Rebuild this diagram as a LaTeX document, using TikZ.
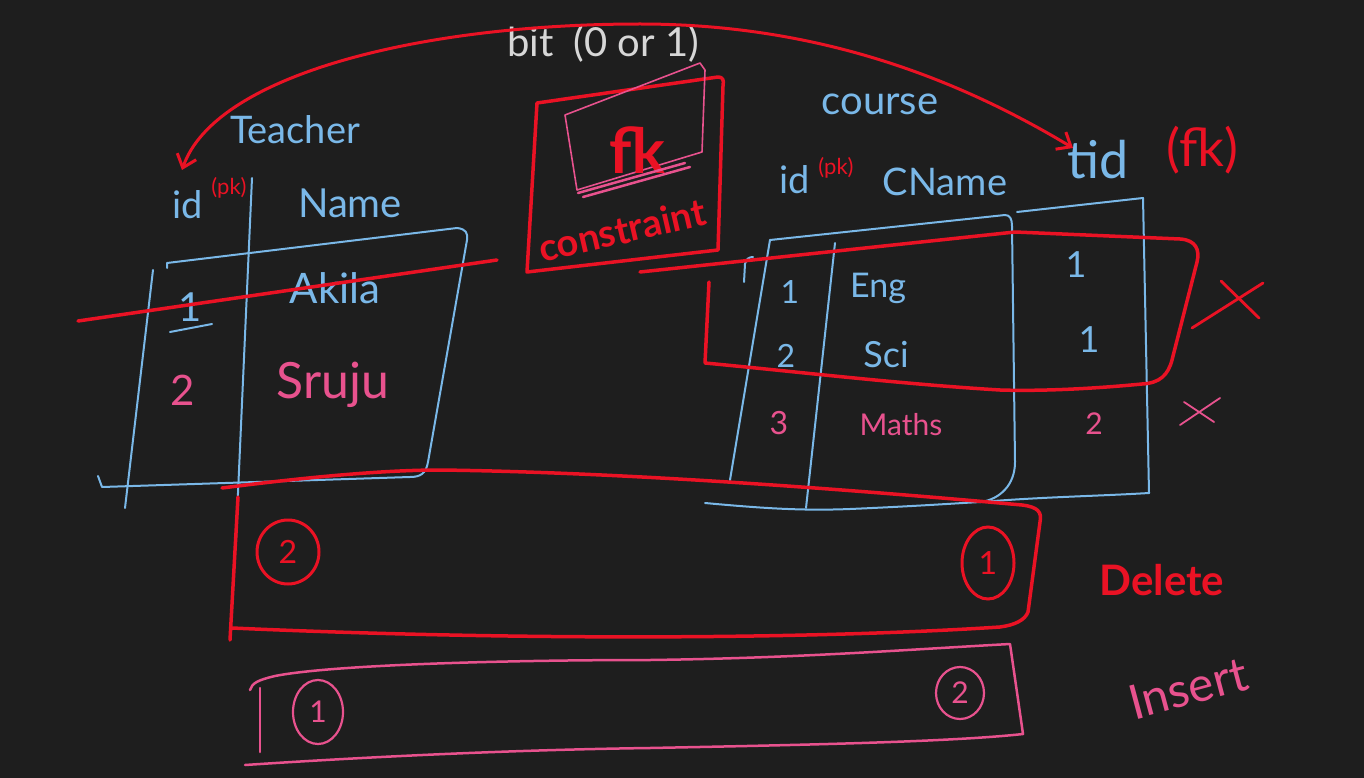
\documentclass[tikz,border=0pt]{standalone}
\usepackage{fontspec}
\setmainfont{Lato}
\usetikzlibrary{arrows.meta,shapes.geometric}
\definecolor{bg}{RGB}{30,30,30}
\definecolor{hblue}{RGB}{122,184,232}
\definecolor{hred}{RGB}{234,18,36}
\definecolor{hpink}{RGB}{232,82,142}
\definecolor{hwhite}{RGB}{215,215,215}
\tikzset{
  bl/.style={draw=hblue, line width=2pt, line cap=round, line join=round},
  rd/.style={draw=hred, line width=3.5pt, line cap=round, line join=round},
  pk/.style={draw=hpink, line width=2.5pt, line cap=round, line join=round},
  fs/.style={font=\fontsize{#1}{#1}\selectfont},
  bt/.style={text=hblue, inner sep=0pt},
  rt/.style={text=hred, inner sep=0pt},
  pt/.style={text=hpink, inner sep=0pt},
  wt/.style={text=hwhite, inner sep=0pt},
  rcirc/.style={draw=hred, line width=3pt, ellipse, inner sep=0pt, text=hred, font=\fontsize{32}{32}\selectfont},
  pcirc/.style={draw=hpink, line width=2.2pt, ellipse, inner sep=0pt, text=hpink, font=\fontsize{30}{30}\selectfont},
}
\begin{document}
\begin{tikzpicture}[x=1pt,y=-1pt]
\fill[bg] (0,0) rectangle (1364,778);
\useasboundingbox (0,0) rectangle (1364,778);

% ---------- top label and fk constraint box ----------
\node[wt, fs=40] (bit) at (603,44) {bit\enspace (0 or 1)};
\draw[rd] (537,103) -- (718,77) .. controls (723,77) and (724,80) .. (723,86) -- (718,250) -- (527,272) -- cycle;
\draw[pk, line width=1.6pt] (565,115) -- (700,63) -- (705,70) -- (702,152) -- (577,190) -- cycle;
\node[rt, font=\bfseries\fontsize{62}{62}\selectfont] (fk) at (637,150) {fk};
\draw[pk] (583,197) -- (690,167);
\draw[pk] (578,193) -- (685,163);
\node[rt, font=\bfseries\fontsize{38}{38}\selectfont, rotate=13] (constraint) at (622,230) {constraint};

% ---------- Teacher table ----------
\node[bt, fs=38] (teacher) at (295,130) {Teacher};
\node[bt, fs=38] (tid) at (188,205) {id};
\node[rt, fs=22] (tpk) at (229,188) {(pk)};
\node[bt, fs=40] (tname) at (350,203) {Name};
\draw[bl] (252,178) -- (236,538);
\draw[bl] (153,270) -- (125,508);
\draw[bl] (167,268) -- (167,263) -- (457,228) .. controls (466,229) and (468,233) .. (467,240) -- (428,462) .. controls (426,474) and (420,477) .. (410,477) -- (102,487) -- (98,476);
\node[bt, fs=40] (t1) at (190,307) {1};
\draw[bl] (170,332) -- (212,324);
\node[bt, fs=42] (akila) at (335,288) {Akila};
\node[pt, fs=42] (t2) at (183,390) {2};
\node[pt, fs=50] (sruju) at (333,385) {Sruju};
\draw[rd] (78,321) -- (497,260);

% ---------- Course table ----------
\node[bt, fs=40] (course) at (880,104) {course};
\node[bt, fs=38] (cid) at (795,180) {id};
\node[rt, fs=22] (cpk) at (836,168) {(pk)};
\node[bt, fs=38] (cname) at (945,182) {CName};
\node[bt, fs=52] (tidc) at (1098,160) {tid};
\node[rt, fs=52] (cfk) at (1202,150) {(fk)};
\draw[bl] (770,240) -- (730,480);
\draw[bl] (744,282) -- (745,264) .. controls (746,259) and (749,257) .. (753,257);
\draw[bl] (835,243) -- (806,508);
\draw[bl] (770,240) -- (1005,215) .. controls (1010,215) and (1012,219) .. (1012,226) -- (1015,462) .. controls (1015,485) and (1000,499) .. (981,502);
\draw[bl] (1017,212) -- (1143,198) -- (1149,493);
\draw[bl] (705,503) .. controls (760,508) and (800,511) .. (850,509) .. controls (920,506) and (960,503) .. (981,502) .. controls (1040,497) and (1100,496) .. (1149,493);
\node[bt, fs=32] (c1) at (790,292) {1};
\node[bt, fs=34] (eng) at (878,288) {Eng};
\node[bt, fs=32] (c2) at (786,356) {2};
\node[bt, fs=36] (sci) at (886,355) {Sci};
\node[pt, fs=32] (c3) at (779,423) {3};
\node[pt, fs=30] (maths) at (901,425) {Maths};
\node[bt, fs=36] (f1) at (1076,265) {1};
\node[bt, fs=36] (f2) at (1089,340) {1};
\node[pt, fs=30] (f3) at (1094,424) {2};
\draw[rd] (640,272) -- (1015,232) -- (1180,239) .. controls (1196,240) and (1200,250) .. (1197,262) -- (1172,360) .. controls (1168,375) and (1160,383) .. (1142,384) .. controls (1080,390) and (1030,391) .. (1000,390) .. controls (900,384) and (800,372) .. (705,363) -- (709,282);

% X marks
\draw[rd, line width=2.8pt] (1192,328) -- (1263,283);
\draw[rd, line width=2.8pt] (1221,281) -- (1259,318);
\draw[pk, line width=1.8pt] (1180,425) -- (1220,398);
\draw[pk, line width=1.8pt] (1184,402) -- (1214,422);

% ---------- foreign key arrow ----------
\coordinate (arcL) at (182,170);
\coordinate (arcR) at (1073,148);
\draw[rd, line width=3pt, {Straight Barb[length=12pt,width=20pt]}-{Straight Barb[length=12pt,width=20pt]}] (arcL) .. controls (215,75) and (420,24) .. (640,24) .. controls (820,24) and (960,80) .. (arcR);

% ---------- Delete box ----------
\draw[rd] (222,488) .. controls (300,478) and (380,470) .. (440,470) .. controls (600,472) and (800,485) .. (1022,505) .. controls (1038,507) and (1042,512) .. (1040,522) -- (1028,612) .. controls (1025,620) and (1015,625) .. (1000,627) .. controls (800,640) and (500,640) .. (232,628);
\draw[rd] (238,497) -- (230,640);
\node[rcirc, minimum width=62pt, minimum height=64pt] (d2) at (288,552) {2};
\node[rcirc, minimum width=52pt, minimum height=72pt] (d1) at (988,563) {1};
\node[rt, font=\bfseries\fontsize{42}{42}\selectfont] (delete) at (1162,580) {Delete};

% ---------- Insert box ----------
\draw[pk] (250,690) .. controls (252,683) and (258,680) .. (275,676) .. controls (330,665) and (500,660) .. (650,660) .. controls (800,658) and (900,650) .. (1010,644) -- (1023,734) .. controls (950,742) and (800,745) .. (650,748) .. controls (500,750) and (350,758) .. (245,765);
\draw[pk] (260,688) -- (260,752);
\node[pcirc, minimum width=50pt, minimum height=64pt] (i1) at (318,712) {1};
\node[pcirc, minimum width=48pt, minimum height=52pt] (i2) at (960,693) {2};
\node[pt, fs=48, rotate=15] (insert) at (1188,688) {Insert};
\end{tikzpicture}
\end{document}
